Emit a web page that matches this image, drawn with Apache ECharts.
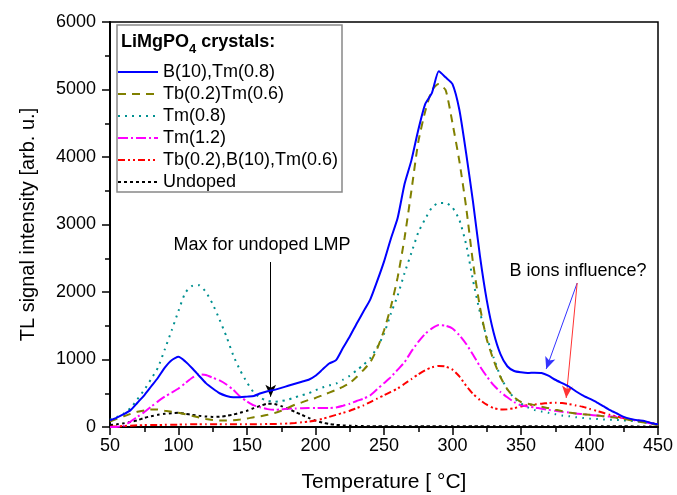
<!DOCTYPE html>
<html><head><meta charset="utf-8">
<script src="https://cdn.jsdelivr.net/npm/echarts@6/dist/echarts.min.js"></script>
<style>html,body{margin:0;padding:0;background:#fff}#c{width:677px;height:495px}</style>
</head><body><div id="c"></div>
<script>
const temps = [];
for (let t = 50; t <= 450; t += 5) temps.push(t);

const names = ['B(10),Tm(0.8)', 'Tb(0.2)Tm(0.6)', 'Tm(0.8)', 'Tm(1.2)', 'Tb(0.2),B(10),Tm(0.6)', 'Undoped'];

const b10tm08 = [100,140,190,250,360,470,600,730,880,990,
  1040,970,870,760,650,570,500,460,440,440,
  450,460,500,530,550,580,610,640,670,700,
  760,850,940,990,1170,1340,1530,1710,1890,2160,
  2450,2790,3100,3600,3950,4400,4780,4950,5270,5180,
  5080,4700,4050,3330,2540,1880,1400,1080,900,830,
  810,800,805,800,760,700,650,600,530,470,
  420,370,310,250,200,150,120,100,90,60,
  40];
const tb02tm06 = [80,120,160,195,225,245,260,258,240,225,
  210,190,165,140,120,105,95,95,100,110,
  125,145,160,180,205,240,285,330,365,400,
  430,470,510,550,595,650,740,845,960,1160,
  1430,1780,2220,2800,3500,4220,4670,4990,5080,4990,
  4500,3940,3250,2430,1780,1300,990,740,560,440,
  370,345,325,300,280,255,235,215,200,190,
  180,170,160,150,135,120,100,85,65,45,
  30];
const tm08 = [110,150,200,280,410,550,710,880,1150,1430,
  1720,1990,2090,2100,2000,1820,1590,1340,1060,840,
  660,510,430,390,375,385,405,440,470,500,
  545,585,615,645,700,760,840,920,1020,1180,
  1380,1680,1950,2280,2580,2880,3080,3250,3320,3320,
  3250,3070,2700,2170,1700,1330,1030,750,560,430,
  350,290,250,230,210,190,170,160,145,135,
  125,120,112,107,104,98,92,82,70,55,
  40];
const tm12 = [0,0,20,80,150,220,300,380,450,510,
  570,650,730,780,770,730,690,630,550,450,
  380,320,290,265,255,260,270,275,278,280,
  280,280,280,290,315,345,385,420,470,560,
  650,740,850,960,1120,1260,1380,1460,1510,1500,
  1460,1360,1230,1070,900,750,620,520,440,370,
  320,305,290,270,255,240,225,215,200,190,
  180,170,160,155,150,130,110,95,75,50,
  30];
const tb02b10tm06 = [5,10,15,20,25,28,30,30,32,35,
  35,38,40,40,40,42,42,40,40,40,
  42,42,42,45,45,48,52,60,70,80,
  95,120,150,180,210,240,280,320,370,420,
  470,520,570,640,710,780,840,885,905,895,
  850,750,610,490,400,330,280,260,262,280,
  305,325,335,345,355,360,355,340,320,300,
  270,240,210,180,155,130,110,95,80,60,
  40];
const undoped = [30,40,55,75,100,135,160,180,195,205,
  210,195,180,165,155,150,152,165,185,210,
  240,280,315,345,340,310,270,225,180,135,
  95,65,45,32,25,20,16,14,12,12,
  12,11,11,10,10,10,10,10,10,10,
  10,10,10,10,10,10,10,10,10,10,
  10,10,10,10,10,10,10,10,10,10,
  10,10,10,10,10,10,10,8,8,6,
  5];

const xTicks = [50,100,150,200,250,300,350,400,450];
const yTicks = [0,1000,2000,3000,4000,5000,6000];

// annotation arrows (data coords)
const arrowUndoped = [[167.3, 2444], [167.3, 449]];
const arrowBlue = [[391, 2133], [368.4, 859]];
const arrowRed = [[391, 2133], [383, 430]];

const FONT = 'Liberation Sans, Arial, sans-serif';
const pairs = arr => temps.map((t, i) => [t, arr[i]]);

const styles = [
  {color: '#0000FF', type: 'solid', width: 2},
  {color: '#808000', type: [8, 6], width: 2},
  {color: '#009090', type: [2, 5], width: 2},
  {color: '#FF00FF', type: [10, 3, 2, 3], width: 2},
  {color: '#FF0000', type: [7, 3, 2, 3, 2, 3], width: 2},
  {color: '#000000', type: [3, 3], width: 2}
];
const datas = [b10tm08, tb02tm06, tm08, tm12, tb02b10tm06, undoped];

function arrowML(coords, color) {
  return {
    silent: true, symbol: ['none', 'arrow'], symbolSize: [8, 12],
    label: {show: false},
    lineStyle: {color: color, type: 'solid', width: 1},
    emphasis: {disabled: true},
    data: [[{coord: coords[0]}, {coord: coords[1]}]]
  };
}

const series = names.map((n, i) => {
  const s = {
    name: n, type: 'line', data: pairs(datas[i]), symbol: 'none', smooth: 0.2,
    lineStyle: styles[i], itemStyle: {color: styles[i].color}, z: 10 - i
  };
  if (i === 0) s.markLine = arrowML(arrowBlue, '#3333FF');
  if (i === 4) s.markLine = arrowML(arrowRed, '#FF3333');
  if (i === 5) s.markLine = arrowML(arrowUndoped, '#000000');
  return s;
});

const chart = echarts.init(document.getElementById('c'), null, {renderer: 'canvas'});
chart.setOption({
  animation: false,
  backgroundColor: '#fff',
  grid: {left: 110, right: 19, top: 22, bottom: 68, show: true, borderColor: '#000', borderWidth: 1.5,
    backgroundColor: 'transparent', containLabel: false, outerBoundsMode: 'none'},
  xAxis: {
    type: 'value', min: 50, max: 450, interval: 50,
    name: 'Temperature [ °C]', nameLocation: 'middle', nameGap: 45,
    nameTextStyle: {fontSize: 21, color: '#000', fontFamily: FONT},
    axisLine: {lineStyle: {color: '#000', width: 2}},
    axisTick: {show: true, inside: false, length: 8, lineStyle: {color: '#000', width: 1.5}},
    minorTick: {show: true, splitNumber: 2, length: 5, lineStyle: {color: '#000', width: 1.5}},
    axisLabel: {fontSize: 18, color: '#000', fontFamily: FONT, margin: 10,
      formatter: v => xTicks.includes(v) ? String(v) : ''},
    splitLine: {show: false}
  },
  yAxis: {
    type: 'value', min: 0, max: 6000, interval: 1000,
    name: 'TL signal intensity [arb. u.]', nameLocation: 'middle', nameGap: 72, nameRotate: 90,
    nameTextStyle: {fontSize: 20, color: '#000', fontFamily: FONT},
    axisLine: {show: true, lineStyle: {color: '#000', width: 2}},
    axisTick: {show: true, inside: false, length: 8, lineStyle: {color: '#000', width: 1.5}},
    minorTick: {show: true, splitNumber: 2, length: 5, lineStyle: {color: '#000', width: 1.5}},
    axisLabel: {fontSize: 18, color: '#000', fontFamily: FONT, margin: 14,
      formatter: v => yTicks.includes(v) ? String(v) : ''},
    splitLine: {show: false}
  },
  legend: {
    orient: 'vertical', left: 117, top: 63, padding: 0,
    itemWidth: 40, itemHeight: 14, itemGap: 4,
    itemStyle: {opacity: 0, borderWidth: 0},
    textStyle: {fontSize: 18, color: '#000', fontFamily: FONT},
    data: names, selectedMode: false
  },
  graphic: [
    {type: 'rect', shape: {x: 117, y: 25, width: 225, height: 167},
     style: {fill: 'none', stroke: '#888', lineWidth: 1.5}, z: 1, silent: true},
    {type: 'text', left: 121, top: 33, z: 5, silent: true,
     style: {text: '{b|LiMgPO}{s|4}{b| crystals:}',
       rich: {b: {fontSize: 18, fontWeight: 'bold', fontFamily: FONT, fill: '#000', verticalAlign: 'bottom', padding: [0, 0, 5, 0]},
              s: {fontSize: 13, fontWeight: 'bold', fontFamily: FONT, fill: '#000', verticalAlign: 'bottom'}}}},
    {type: 'text', x: 262, y: 245, z: 5, silent: true,
     style: {text: 'Max for undoped LMP', fontSize: 18, fontFamily: FONT, fill: '#000', textAlign: 'center', textVerticalAlign: 'middle'}},
    {type: 'text', x: 578, y: 271, z: 5, silent: true,
     style: {text: 'B ions influence?', fontSize: 18, fontFamily: FONT, fill: '#000', textAlign: 'center', textVerticalAlign: 'middle'}}
  ],
  series: series
});
</script></body></html>
